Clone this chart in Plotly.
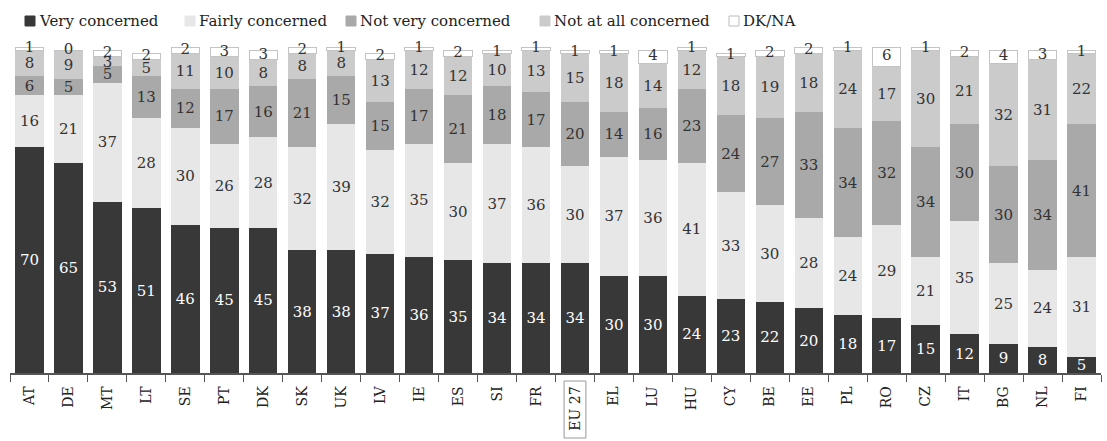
import plotly.graph_objects as go

# Survey results per country (%), ordered by share of "Very concerned"
countries = ["AT", "DE", "MT", "LT", "SE", "PT", "DK", "SK", "UK", "LV", "IE", "ES", "SI", "FR",
             "EU 27", "EL", "LU", "HU", "CY", "BE", "EE", "PL", "RO", "CZ", "IT", "BG", "NL", "FI"]
very_concerned = [70, 65, 53, 51, 46, 45, 45, 38, 38, 37, 36, 35, 34, 34,
                  34, 30, 30, 24, 23, 22, 20, 18, 17, 15, 12, 9, 8, 5]
fairly_concerned = [16, 21, 37, 28, 30, 26, 28, 32, 39, 32, 35, 30, 37, 36,
                    30, 37, 36, 41, 33, 30, 28, 24, 29, 21, 35, 25, 24, 31]
not_very_concerned = [6, 5, 5, 13, 12, 17, 16, 21, 15, 15, 17, 21, 18, 17,
                      20, 14, 16, 23, 24, 27, 33, 34, 32, 34, 30, 30, 34, 41]
not_at_all_concerned = [8, 9, 3, 5, 11, 10, 8, 8, 8, 13, 12, 12, 10, 13,
                        15, 18, 14, 12, 18, 19, 18, 24, 17, 30, 21, 32, 31, 22]
dk_na = [1, 0, 2, 2, 2, 3, 3, 2, 1, 2, 1, 2, 1, 1,
         1, 1, 4, 1, 1, 2, 2, 1, 6, 1, 2, 4, 3, 1]

series = [
    ("Very concerned", very_concerned, "#383838", "white"),
    ("Fairly concerned", fairly_concerned, "#e7e7e7", "#333333"),
    ("Not very concerned", not_very_concerned, "#a9a9a9", "#333333"),
    ("Not at all concerned", not_at_all_concerned, "#cbcbcb", "#333333"),
    ("DK/NA", dk_na, "#ffffff", "#333333"),
]

SERIF = "DejaVu Serif"
LABEL_SIZE = 15
W, H = 1107, 441
M_L, M_R, M_T, M_B = 10, 6, 47, 68
PW, PH = W - M_L - M_R, H - M_T - M_B


def px_x(x):
    return (x - M_L) / PW


def px_y(y):
    return (H - M_B - y) / PH


fig = go.Figure()
for name, vals, color, tcolor in series:
    is_dk = name == "DK/NA"
    fig.add_trace(go.Bar(
        x=countries, y=vals, name=name,
        marker=dict(color=color,
                    line=dict(color="#c4c4c4" if is_dk else color, width=1 if is_dk else 0)),
        text=None if is_dk else [str(v) for v in vals],
        textposition="none" if is_dk else "inside",
        insidetextanchor="middle", textangle=0,
        constraintext="none",
        textfont=dict(family=SERIF, size=LABEL_SIZE, color=tcolor),
        showlegend=False,
        hoverinfo="x+y+name",
    ))

# DK/NA labels sit at the middle of the top segment (shown even when the share is 0)
below_dk = [a + b + c + d for a, b, c, d in zip(very_concerned, fairly_concerned,
                                                 not_very_concerned, not_at_all_concerned)]
fig.add_trace(go.Scatter(
    x=countries, y=[b + v / 2 for b, v in zip(below_dk, dk_na)],
    mode="text", text=[str(v) for v in dk_na], textposition="middle center",
    textfont=dict(family=SERIF, size=LABEL_SIZE, color="#333333"),
    showlegend=False, hoverinfo="skip", cliponaxis=False,
))

# Legend drawn as swatches + labels along the top
legend_items = [
    ("Very concerned", "#383838", 25),
    ("Fairly concerned", "#e7e7e7", 185),
    ("Not very concerned", "#a9a9a9", 346),
    ("Not at all concerned", "#cbcbcb", 540),
    ("DK/NA", "#ffffff", 729),
]
shapes = []
annotations = []
for label, color, x0 in legend_items:
    shapes.append(dict(type="rect", xref="paper", yref="paper",
                       x0=px_x(x0), x1=px_x(x0 + 10), y0=px_y(26), y1=px_y(16),
                       fillcolor=color, line=dict(color="#bdbdbd" if color == "#ffffff" else color, width=1)))
    annotations.append(dict(text=label, xref="paper", yref="paper", x=px_x(x0 + 12), y=px_y(21),
                            xanchor="left", yanchor="middle", showarrow=False,
                            font=dict(family=SERIF, size=15, color="#222222")))

# Frame around the EU 27 tick label
eu_idx = countries.index("EU 27")
shapes.append(dict(type="rect", xref="x", yref="paper",
                   x0=eu_idx - 0.28, x1=eu_idx + 0.28, y0=px_y(438), y1=px_y(381),
                   line=dict(color="#999999", width=1), fillcolor="rgba(0,0,0,0)"))

fig.update_layout(
    barmode="stack",
    bargap=0.27,
    width=W, height=H,
    margin=dict(l=M_L, r=M_R, t=M_T, b=M_B),
    paper_bgcolor="white", plot_bgcolor="white",
    uniformtext=dict(mode="show", minsize=LABEL_SIZE),
    shapes=shapes,
    annotations=annotations,
    xaxis=dict(
        type="category",
        range=[-0.5, len(countries) - 0.5],
        tickangle=-90,
        tickfont=dict(family=SERIF, size=14, color="#222222"),
        showline=True, linecolor="#555555", linewidth=1.5,
        ticks="outside", tickson="boundaries", ticklen=7, tickcolor="#555555",
        ticklabelstandoff=6,
        showgrid=False, zeroline=False,
    ),
    yaxis=dict(range=[0, 101], visible=False, showgrid=False, zeroline=False),
)

fig.write_html("out.html")
